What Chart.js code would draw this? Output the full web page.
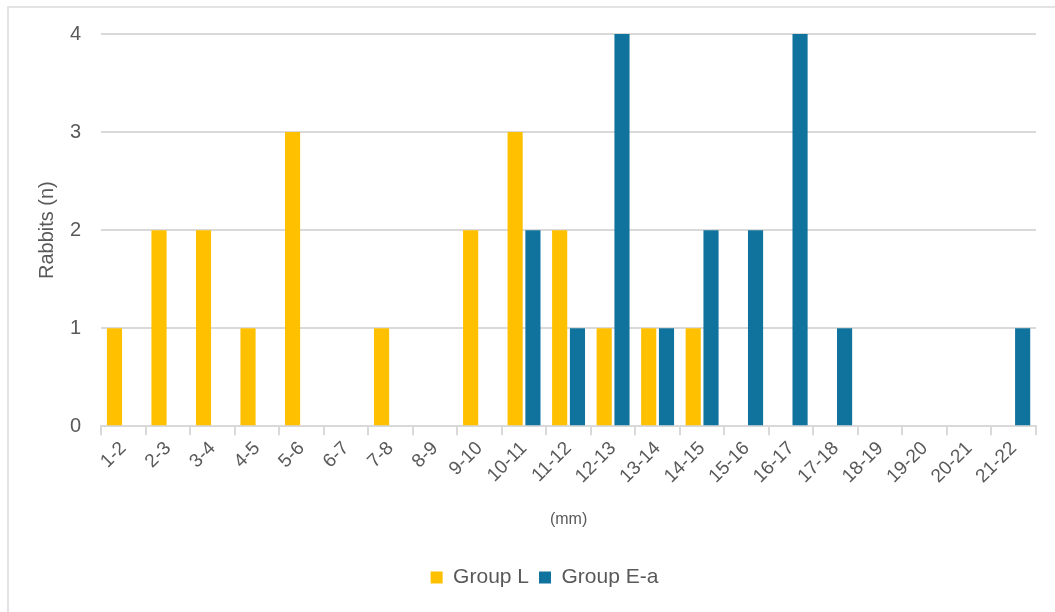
<!DOCTYPE html>
<html lang="en">

<head>
    <meta charset="UTF-8">
    <title>Rabbits by size range</title>
    <script src="https://cdn.jsdelivr.net/npm/chart.js"></script>
    <style>
        body {
            margin: 0;
            padding: 0;
            background: #fff;
            font-family: "Liberation Sans", Arial, sans-serif;
        }

        .frame {
            position: absolute;
            left: 7px;
            top: 6px;
            width: 1100px;
            height: 700px;
            border-top: 2px solid #e3e3e3;
            border-left: 2px solid #e3e3e3;
        }

        #rabbitsChart {
            position: absolute;
            left: 0;
            top: 0;
        }
    </style>
</head>

<body>
    <div class="frame"></div>
    <canvas id="rabbitsChart" width="1055" height="612"></canvas>

    <script>
        // Rangos de tamaño (mm)
        const ranges = ['1-2', '2-3', '3-4', '4-5', '5-6', '6-7', '7-8', '8-9', '9-10', '10-11', '11-12',
            '12-13', '13-14', '14-15', '15-16', '16-17', '17-18', '18-19', '19-20', '20-21', '21-22'];

        // Número de conejos por grupo
        const groupL = [1, 2, 2, 1, 3, 0, 1, 0, 2, 3, 2, 1, 1, 1, 0, 0, 0, 0, 0, 0, 0];
        const groupEa = [0, 0, 0, 0, 0, 0, 0, 0, 0, 2, 1, 4, 1, 2, 2, 4, 1, 0, 0, 0, 1];

        const yTicks = [0, 1, 2, 3, 4];

        const textColor = '#595959';
        const lineColor = '#d9d9d9';

        const ctx = document.getElementById('rabbitsChart').getContext('2d');

        new Chart(ctx, {
            type: 'bar',
            data: {
                labels: ranges,
                datasets: [
                    { label: 'Group L', data: groupL, backgroundColor: '#ffc000' },
                    { label: 'Group E-a', data: groupEa, backgroundColor: '#10739e' }
                ]
            },
            options: {
                responsive: false,
                animation: false,
                categoryPercentage: 0.8,
                barPercentage: 0.85,
                // el padding izquierdo mayor centra la leyenda un poco a la derecha
                layout: { padding: { left: 53, right: 19, top: 34, bottom: 14 } },
                font: { family: '"Liberation Sans", Arial, sans-serif' },
                plugins: {
                    tooltip: { enabled: false },
                    legend: {
                        position: 'bottom',
                        labels: {
                            color: textColor,
                            boxWidth: 12,
                            boxHeight: 12,
                            padding: 10,
                            font: { size: 21 }
                        }
                    }
                },
                scales: {
                    x: {
                        border: { color: lineColor, width: 2 },
                        grid: {
                            offset: true,
                            drawOnChartArea: false,
                            drawTicks: true,
                            tickLength: 9,
                            color: lineColor,
                            lineWidth: 2
                        },
                        ticks: {
                            color: textColor,
                            font: { size: 19 },
                            minRotation: 45,
                            maxRotation: 45,
                            padding: 2
                        },
                        title: {
                            display: true,
                            text: '(mm)',
                            color: textColor,
                            font: { size: 16 },
                            padding: { top: 20, bottom: 28 }
                        }
                    },
                    y: {
                        min: 0,
                        max: 4,
                        afterBuildTicks: (scale) => {
                            scale.ticks = yTicks.map(v => ({ value: v }));
                        },
                        border: { display: false },
                        grid: { drawTicks: false, color: lineColor, lineWidth: 2 },
                        ticks: {
                            color: textColor,
                            font: { size: 20 },
                            padding: 20
                        },
                        title: {
                            display: true,
                            text: 'Rabbits (n)',
                            color: textColor,
                            font: { size: 20 },
                            padding: { top: -18, bottom: -9 }
                        }
                    }
                }
            }
        });
    </script>
</body>

</html>
